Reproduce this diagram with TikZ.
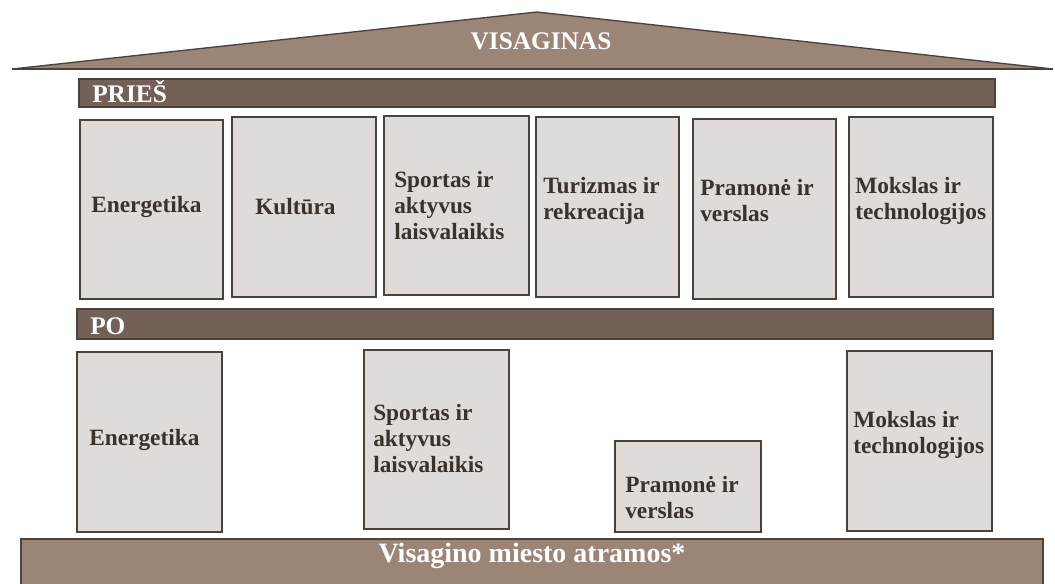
\documentclass[tikz,border=0pt]{standalone}
\usepackage{fontspec}
\setmainfont{Liberation Serif}
\definecolor{roofbrown}{HTML}{9B8577}
\definecolor{bandbrown}{HTML}{736158}
\definecolor{pillargrey}{HTML}{DFDBD8}
\definecolor{edgedark}{HTML}{4A433C}
\definecolor{textdark}{HTML}{3A322B}
\tikzset{
  roof/.style={fill=roofbrown, draw=edgedark, line width=1pt},
  band/.style={fill=bandbrown, draw=edgedark, line width=1pt},
  pillar/.style={fill=pillargrey, draw=edgedark, line width=1.1pt},
  pillartext/.style={anchor=west, inner sep=0pt, align=left, text=textdark,
    font=\fontsize{17.5}{19.5}\selectfont\bfseries},
  bandtext/.style={inner sep=0pt, text=white, font=\fontsize{19}{22}\selectfont\bfseries},
}
\begin{document}
\begin{tikzpicture}[x=0.75pt,y=-0.75pt]
  \useasboundingbox (0,0) rectangle (1055,583);
  % roof and base
  \draw[roof] (12,69) -- (537,12) -- (1053,69) -- cycle;
  \draw[edgedark, line width=1.6pt] (12,69) -- (1053,69);
  \node[bandtext, anchor=base] (town) at (541,49) {VISAGINAS};
  \draw[roof] (21,539) rectangle (1043,590);
  \node[bandtext, anchor=base, font=\fontsize{21}{24}\selectfont\bfseries] (base) at (532,562) {Visagino miesto atramos*};

  % before
  \draw[band] (79,79) rectangle (995,107);
  \node[bandtext, anchor=base west] (before) at (92,102) {PRIEŠ};
  \draw[pillar] (80,120) rectangle (223,299);
  \draw[pillar] (232,117) rectangle (376,297);
  \draw[pillar] (384,116) rectangle (529,295);
  \draw[pillar] (536,117) rectangle (679,297);
  \draw[pillar] (693,119) rectangle (836,299);
  \draw[pillar] (849,117) rectangle (993,297);
  \node[pillartext] (energyA) at (91,207) {Energetika};
  \node[pillartext] (cultureA) at (255,207) {Kultūra};
  \node[pillartext] (sportA) at (394,206) {Sportas ir\\aktyvus\\laisvalaikis};
  \node[pillartext] (tourismA) at (543,201) {Turizmas ir\\rekreacija};
  \node[pillartext] (industryA) at (700,201) {Pramonė ir\\verslas};
  \node[pillartext] (scienceA) at (855,201) {Mokslas ir\\technologijos};

  % after
  \draw[band] (77,309) rectangle (993,339);
  \node[bandtext, anchor=base west] (after) at (90,334) {PO};
  \draw[pillar] (77,352) rectangle (222,532);
  \draw[pillar] (364,350) rectangle (509,529);
  \draw[pillar] (615,441) rectangle (761,532);
  \draw[pillar] (847,351) rectangle (992,531);
  \node[pillartext] (energyB) at (89,440) {Energetika};
  \node[pillartext] (sportB) at (373,439) {Sportas ir\\aktyvus\\laisvalaikis};
  \node[pillartext] (industryB) at (625,498) {Pramonė ir\\verslas};
  \node[pillartext] (scienceB) at (853,435) {Mokslas ir\\technologijos};
\end{tikzpicture}
\end{document}
